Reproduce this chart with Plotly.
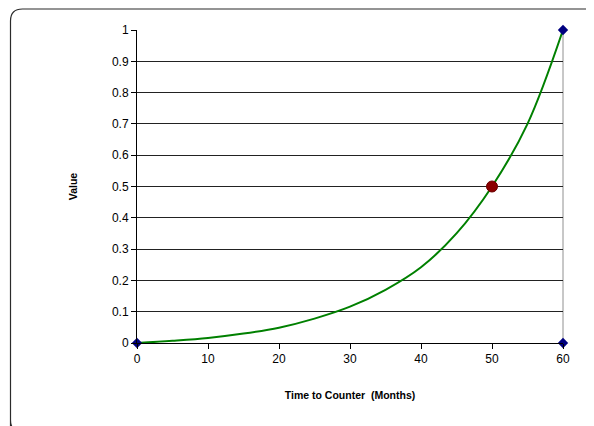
import plotly.graph_objects as go

# curve
months = [0, 5, 10, 15, 20, 25, 30, 35, 40, 45, 50, 55, 60]
values = [0, 0.007, 0.016, 0.03, 0.049, 0.078, 0.116, 0.17, 0.242, 0.35, 0.5, 0.7, 1.0]

anchor_x = [0, 60, 60]
anchor_y = [0, 0, 1]

point_x = [50]
point_y = [0.5]

y_ticks = [0, 0.1, 0.2, 0.3, 0.4, 0.5, 0.6, 0.7, 0.8, 0.9, 1]
x_ticks = [0, 10, 20, 30, 40, 50, 60]

W, H = 594, 426
L, R, T, B = 137, 563, 30, 343
PAGE = 8  # body margin of the html page


def px(x):
    return (x - L) / (R - L)


def py(y):
    return (B - y) / (B - T)


fig = go.Figure()
fig.add_trace(
    go.Scatter(
        x=months,
        y=values,
        mode="lines",
        line=dict(color="#008000", width=2, shape="spline", smoothing=1.0),
        hoverinfo="skip",
        cliponaxis=False,
    )
)
fig.add_trace(
    go.Scatter(
        x=anchor_x,
        y=anchor_y,
        mode="markers",
        marker=dict(symbol="diamond", size=8, color="#000080"),
        cliponaxis=False,
    )
)
fig.add_trace(
    go.Scatter(
        x=point_x,
        y=point_y,
        mode="markers",
        marker=dict(size=11, color="#8b0000", line=dict(color="#6b0000", width=1)),
        cliponaxis=False,
    )
)

# plot-area right edge (grey)
fig.add_shape(type="line", xref="paper", yref="paper", x0=1, x1=1, y0=0, y1=1,
              line=dict(color="#909090", width=1), layer="below")

# rounded chart-area border
x0, y0, rad = 10.5, 9, 12
yb = 432
path = (
    f"M {px(x0)},{py(yb + 20)} L {px(x0)},{py(yb - rad)} "
    f"Q {px(x0)},{py(yb)} {px(x0 + rad)},{py(yb)} "
    f"M {px(x0)},{py(yb - rad)} L {px(x0)},{py(y0 + rad)} "
    f"Q {px(x0)},{py(y0)} {px(x0 + rad)},{py(y0)} L {px(W + 20)},{py(y0)}"
)
fig.add_shape(type="path", xref="paper", yref="paper", path=path,
              line=dict(color="#2b2b2b", width=1.2))

fig.update_layout(
    width=W,
    height=H,
    showlegend=False,
    paper_bgcolor="white",
    plot_bgcolor="white",
    font=dict(family="Liberation Sans, Arial, sans-serif", size=12, color="black"),
    margin=dict(l=L - PAGE, r=W - R + PAGE, t=T - PAGE, b=H - B + PAGE),
    xaxis=dict(
        range=[0, 60],
        tickvals=x_ticks,
        showgrid=False,
        zeroline=False,
        showline=True,
        linecolor="black",
        linewidth=1,
        ticks="outside",
        ticklen=5,
        tickcolor="black",
        title=dict(text="<b>Time to Counter  (Months)</b>", font=dict(size=10.5), standoff=26),
    ),
    yaxis=dict(
        range=[0, 1],
        tickvals=y_ticks,
        showgrid=True,
        gridcolor="#222222",
        gridwidth=1,
        zeroline=False,
        showline=True,
        linecolor="black",
        linewidth=1,
        ticks="outside",
        ticklen=5,
        tickcolor="black",
        title=dict(text="<b>Value</b>", font=dict(size=10.5), standoff=32),
    ),
)

fig.write_html("out.html")
